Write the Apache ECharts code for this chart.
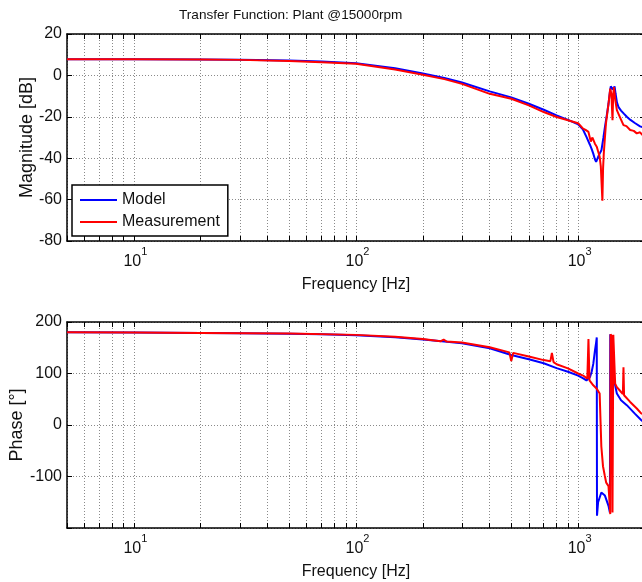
<!DOCTYPE html>
<html><head><meta charset="utf-8">
<script src="https://cdn.jsdelivr.net/npm/echarts@6/dist/echarts.min.js"></script>
<style>html,body{margin:0;padding:0;background:#fff}#c{width:642px;height:582px}</style>
</head><body><div id="c"></div>
<script>
// ---------- data ----------
const titleText = 'Transfer Function: Plant @15000rpm';
const seriesNames = ['Model', 'Measurement'];
const freqTicks = [5,6,7,8,9,10,20,30,40,50,60,70,80,90,100,200,300,400,500,600,700,800,900,1000,2000];
const freqLabels = [10, 100, 1000];
const magRange = [-80, 20, 20];     // min, max, interval
const phaseRange = [-200, 200, 100];

// [frequency Hz, magnitude dB]
const modelMag = [[5,7.8],[10,7.8],[20,7.7],[30,7.6],[50,7.2],[70,6.7],[100,5.9],[150,3.5],[200,0.9],[250,-1.2],[300,-3.4],[400,-7.7],[500,-10.6],[600,-13.7],[700,-16.6],[800,-19.3],[900,-21.5],[1000,-23.6],[1050,-26],[1090,-29.7],[1130,-33.5],[1150,-35.5],[1170,-37.8],[1190,-40.5],[1205,-41.8],[1215,-41.2],[1240,-38.5],[1273,-36.2],[1300,-30],[1320,-25],[1345,-19.5],[1370,-13.7],[1390,-8],[1403,-5.3],[1418,-6],[1433,-6.8],[1446,-6],[1459,-5.3],[1475,-9],[1495,-13],[1520,-15.3],[1560,-17],[1610,-18.6],[1656,-20],[1720,-21.5],[1800,-23],[1900,-24.6],[2000,-25.5]];
const measMag = [[5,7.8],[10,7.8],[20,7.7],[30,7.5],[50,7.0],[70,6.4],[100,5.6],[150,2.8],[200,0.3],[250,-1.8],[300,-4.1],[400,-8.9],[500,-11.3],[600,-14.5],[700,-17.7],[800,-20.1],[900,-21.7],[1000,-23.1],[1053,-25.7],[1080,-26.3],[1113,-27.3],[1125,-26.5],[1140,-32],[1160,-30],[1190,-33],[1213,-34.5],[1240,-38],[1250,-39.3],[1265,-44],[1286,-60.5],[1295,-45],[1305,-37.5],[1334,-23.3],[1370,-13.7],[1395,-6.4],[1412,-9],[1428,-21.7],[1438,-10],[1449,-5.6],[1470,-12],[1494,-16.8],[1540,-20],[1600,-24],[1650,-24.5],[1715,-26.4],[1780,-26.8],[1837,-28],[1900,-27.5],[1950,-28.8],[2000,-28.5]];

// [frequency Hz, phase deg]
const modelPhase = [[5,180],[10,179.5],[20,178.8],[30,178],[50,177],[70,176],[100,174.5],[150,170.5],[200,166],[250,162],[300,158.5],[400,149],[500,136],[600,127.5],[700,119.8],[800,110.5],[900,103.5],[1000,96],[1050,91],[1090,86.5],[1130,93],[1150,103],[1170,118.6],[1190,144],[1205,160],[1213,170],[1216,-176],[1230,-150],[1272,-131],[1320,-137],[1370,-157],[1390,-170],[1395,176],[1420,138],[1453,86.5],[1494,61],[1560,48],[1656,38.5],[1800,22],[1922,9.6],[2000,4]];
const measPhase = [[5,180],[10,179.5],[20,178.8],[50,177.5],[100,175],[150,171.5],[200,167],[240,162.5],[248,166],[256,162],[300,160],[400,151],[490,141],[500,124],[510,140],[600,133],[700,126],[750,124],[762,140],[775,122],[800,118],[900,110],[1000,100],[1053,96],[1100,90],[1113,166.7],[1125,86.5],[1170,77],[1213,70.5],[1250,61],[1272,-41.7],[1294,-80],[1319,-99],[1338,-112],[1370,-118.6],[1385,-150],[1395,-173],[1400,176],[1418,172],[1428,-170],[1440,175],[1468,80],[1494,73.6],[1540,67],[1590,60],[1600,112],[1610,57.7],[1715,44.8],[1837,32],[1922,22.5],[2000,20]];

// ---------- chart ----------
const FONT = 'Liberation Sans, Arial, Helvetica, sans-serif';
const TXT = '#111';
const gridStyle = {type: [1, 2], color: '#8a8a8a', width: 1};

function xAx(gi, pos, main, name) {
  return {
    type: 'log', logBase: 10, gridIndex: gi, position: pos, min: 5, max: 2000,
    axisLine: {show: true, onZero: false, lineStyle: {color: '#000', width: 1.5}},
    axisTick: {show: true, inside: true, length: 5, customValues: freqTicks, lineStyle: {color: '#000', width: 1}},
    axisLabel: {show: main, customValues: freqLabels, margin: 5,
      formatter: v => '{b|10}{s|' + Math.round(Math.log10(v)) + '}',
      rich: {
        b: {fontSize: 16, fontFamily: FONT, color: TXT, lineHeight: 24, verticalAlign: 'bottom', padding: [0, 0, 0, 3]},
        s: {fontSize: 11, fontFamily: FONT, color: TXT, lineHeight: 12, verticalAlign: 'top'}
      }},
    splitLine: {show: main, lineStyle: gridStyle},
    name: main ? name : '', nameLocation: 'middle', nameGap: 36, nameMoveOverlap: false,
    nameTextStyle: {fontSize: 16, fontFamily: FONT, color: TXT}
  };
}
function yAx(gi, pos, r, main, name, gap) {
  return {
    type: 'value', gridIndex: gi, position: pos, min: r[0], max: r[1], interval: r[2],
    axisLine: {show: true, onZero: false, lineStyle: {color: '#000', width: 1.5}},
    axisTick: {show: true, inside: true, length: 5, lineStyle: {color: '#000'}},
    axisLabel: {show: main, margin: 5, fontSize: 16, fontFamily: FONT, color: TXT,
      formatter: v => (gi === 1 && v === r[0]) ? '' : String(v)},
    splitLine: {show: main, lineStyle: gridStyle},
    name: main ? name : '', nameLocation: 'middle', nameGap: gap || 30, nameMoveOverlap: false,
    nameTextStyle: {fontSize: 18, fontFamily: FONT, color: TXT}
  };
}
function ser(name, data, xi, yi, color) {
  return {name, type: 'line', data, xAxisIndex: xi, yAxisIndex: yi, showSymbol: false, symbol: 'none',
    lineStyle: {color, width: 2}, itemStyle: {color}, animation: false, z: name === 'Model' ? 2 : 3};
}

const chart = echarts.init(document.getElementById('c'), null, {renderer: 'canvas'});
chart.setOption({
  backgroundColor: '#fff',
  animation: false,
  title: {text: titleText, left: 179, top: 8, padding: 0,
    textStyle: {fontSize: 13.6, fontWeight: 'normal', fontFamily: FONT, color: TXT}},
  legend: {data: seriesNames, orient: 'vertical', left: 72, top: 185, icon: 'rect', itemWidth: 37, itemHeight: 2,
    itemGap: 6, padding: [7, 8, 6, 8], backgroundColor: '#fff', borderColor: '#000', borderWidth: 1.5,
    textStyle: {fontSize: 16, fontFamily: FONT, color: TXT}},
  grid: [
    {left: 67, right: -3, top: 34, height: 207, outerBoundsMode: 'none', containLabel: false},
    {left: 67, right: -3, top: 322, height: 206, outerBoundsMode: 'none', containLabel: false}
  ],
  xAxis: [xAx(0, 'bottom', true, 'Frequency [Hz]'), xAx(0, 'top', false, ''),
          xAx(1, 'bottom', true, 'Frequency [Hz]'), xAx(1, 'top', false, '')],
  yAxis: [yAx(0, 'left', magRange, true, 'Magnitude [dB]', 31), yAx(0, 'right', magRange, false, ''),
          yAx(1, 'left', phaseRange, true, 'Phase [°]', 41), yAx(1, 'right', phaseRange, false, '')],
  series: [
    ser('Model', modelMag, 0, 0, '#0000ff'),
    ser('Measurement', measMag, 0, 0, '#ff0000'),
    ser('Model', modelPhase, 2, 2, '#0000ff'),
    ser('Measurement', measPhase, 2, 2, '#ff0000')
  ]
});
</script></body></html>
